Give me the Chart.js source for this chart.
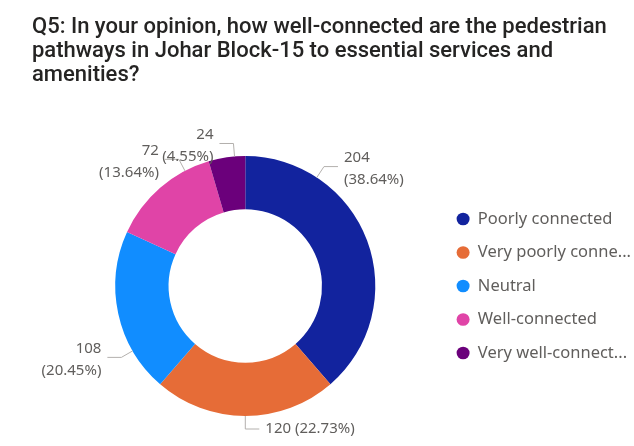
<!DOCTYPE html>
<html>
<head>
<meta charset="utf-8">
<script src="https://cdn.jsdelivr.net/npm/chart.js@4/dist/chart.umd.min.js"></script>
<style>
  body { margin: 0; background: #fff; }
  #wrap { position: relative; width: 634px; height: 446px; }
  #title {
    position: absolute; left: 32px; top: 14px; width: 600px;
    font-family: Roboto, sans-serif; font-weight: 500; font-size: 22px;
    line-height: 24px; color: #252423;
  }
  #chart { position: absolute; left: 0; top: 0; }
</style>
</head>
<body>
<div id="wrap">
  <canvas id="chart" width="634" height="446"></canvas>
  <div id="title">Q5: In your opinion, how well-connected are the pedestrian pathways in Johar Block-15 to essential services and amenities?</div>
</div>
<script>
// Respuestas de la encuesta
const categories = ['Poorly connected', 'Very poorly connected', 'Neutral', 'Well-connected', 'Very well-connected'];
const responses = [204, 120, 108, 72, 24];
const sliceColors = ['#12239E', '#E66C37', '#118DFF', '#E044A7', '#6B007B'];

const total = responses.reduce((a, b) => a + b, 0);

// Etiquetas con línea guía fuera del anillo
const outsideLabels = {
    id: 'outsideLabels',
    afterDraw(chart, args, opts) {
        const ctx = chart.ctx;
        const meta = chart.getDatasetMeta(0);
        ctx.save();
        ctx.font = '15px "Noto Sans", sans-serif';
        ctx.textBaseline = 'middle';
        meta.data.forEach((arc, i) => {
            const { x, y, startAngle, endAngle, outerRadius } = arc.getProps(['x', 'y', 'startAngle', 'endAngle', 'outerRadius'], true);
            const a = startAngle + (endAngle - startAngle) * opts.anchorAt[i];
            const cos = Math.cos(a), sin = Math.sin(a);
            const p0 = { x: x + outerRadius * cos, y: y + outerRadius * sin };
            const p1 = { x: x + (outerRadius + 13) * cos, y: y + (outerRadius + 13) * sin };
            const dir = cos >= -0.01 ? 1 : -1;
            const p2 = { x: p1.x + 14 * dir, y: p1.y };

            ctx.strokeStyle = '#b3b0ad';
            ctx.lineWidth = 1;
            ctx.beginPath();
            ctx.moveTo(p0.x, p0.y);
            ctx.lineTo(p1.x, p1.y);
            ctx.lineTo(p2.x, p2.y);
            ctx.stroke();

            const value = responses[i];
            const pct = '(' + (value / total * 100).toFixed(2) + '%)';
            ctx.fillStyle = '#605e5c';
            ctx.textAlign = dir > 0 ? 'left' : 'right';
            const tx = p2.x + 6 * dir;
            if (opts.singleLine[i]) {
                ctx.fillText(value + ' ' + pct, tx, p2.y);
            } else {
                ctx.fillText(String(value), tx, p2.y - 8.5);
                ctx.fillText(pct, tx, p2.y + 13.5);
            }
        });
        ctx.restore();
    }
};

const ctx = document.getElementById('chart').getContext('2d');
const chart = new Chart(ctx, {
    type: 'doughnut',
    data: {
        labels: categories,
        datasets: [{
            data: responses,
            backgroundColor: sliceColors,
            borderWidth: 0
        }]
    },
    options: {
        responsive: false,
        animation: false,
        radius: 130,
        cutout: '59%',
        layout: { padding: { left: 51, right: -7, top: 140, bottom: 14 } },
        plugins: {
            title: { display: false },
            tooltip: { enabled: false },
            legend: {
                position: 'right',
                align: 'center',
                labels: {
                    usePointStyle: true,
                    pointStyle: 'circle',
                    pointStyleWidth: 13,
                    boxHeight: 9,
                    padding: 17,
                    color: '#605e5c',
                    font: { family: '"Noto Sans", sans-serif', size: 16.5 },
                    generateLabels(c) {
                        const items = Chart.overrides.doughnut.plugins.legend.labels.generateLabels(c);
                        items.forEach(it => {
                            if (it.text.length > 18) it.text = it.text.slice(0, 17) + '...';
                        });
                        return items;
                    }
                }
            },
            outsideLabels: {
                anchorAt: [0.24, 0.5, 0.26, 0.77, 0.71],
                singleLine: [false, true, false, false, false]
            }
        }
    },
    plugins: [outsideLabels]
});
</script>
</body>
</html>
